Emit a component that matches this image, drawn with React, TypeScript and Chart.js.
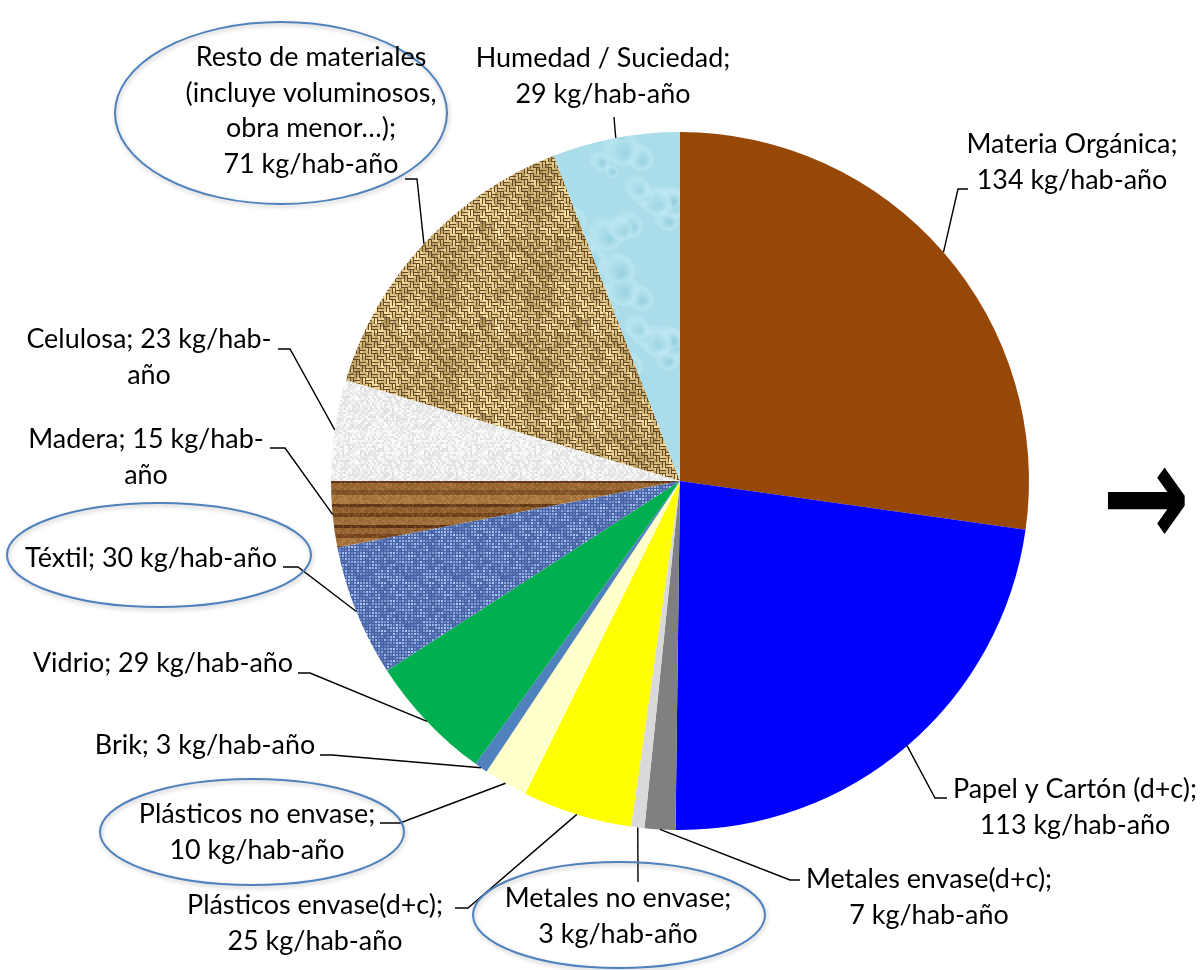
import React, { useEffect, useRef } from "react";
import { Chart, registerables } from "chart.js";

Chart.register(...registerables);

// ---------- DATA ----------
const categories = [
  "Materia Orgánica",
  "Papel y Cartón (d+c)",
  "Metales envase(d+c)",
  "Metales no envase",
  "Plásticos envase(d+c)",
  "Plásticos no envase",
  "Brik",
  "Vidrio",
  "Téxtil",
  "Madera",
  "Celulosa",
  "Resto de materiales (incluye voluminosos, obra menor…)",
  "Humedad / Suciedad",
];
const values = [134, 113, 7, 3, 25, 10, 3, 29, 30, 15, 23, 71, 29];
const unit = "kg/hab-año";

// label text lines (as wrapped in the reference)
const labelLines: string[][] = [
  ["Materia Orgánica;", `${values[0]} ${unit}`],
  ["Papel y Cartón (d+c);", `${values[1]} ${unit}`],
  ["Metales envase(d+c);", `${values[2]} ${unit}`],
  ["Metales no envase;", `${values[3]} ${unit}`],
  ["Plásticos envase(d+c);", `${values[4]} ${unit}`],
  ["Plásticos no envase;", `${values[5]} ${unit}`],
  [`Brik; ${values[6]} ${unit}`],
  [`Vidrio; ${values[7]} ${unit}`],
  [`Téxtil; ${values[8]} ${unit}`],
  [`Madera; ${values[9]} kg/hab-`, "año"],
  [`Celulosa; ${values[10]} kg/hab-`, "año"],
  ["Resto de materiales", "(incluye voluminosos,", "obra menor…);", `${values[11]} ${unit}`],
  ["Humedad / Suciedad;", `${values[12]} ${unit}`],
];
const arrowGlyph = "→";

// ---------- LAYOUT (label placement) ----------
const labelCenterX = [1072, 1075, 929, 618, 315, 257, 205, 163, 151, 146, 149, 311, 603];
const labelFirstBaseline = [153, 798, 888, 907, 914, 823, 754, 672, 567, 448, 348, 66, 67];
const lineHeight = 35.5;
// leader line: elbow point then end point (near text)
const leaderElbow: [number, number][] = [
  [958, 189], [935, 798], [790, 880], [638, 882], [468, 908], [400, 823],
  [332, 755], [310, 673], [298, 567], [285, 448], [290, 349], [417, 179], [614, 117],
];
const leaderEnd: [number, number][] = [
  [968, 189], [947, 798], [800, 880], [638, 882], [455, 908], [380, 823],
  [320, 755], [298, 673], [283, 567], [270, 448], [278, 349], [405, 179], [614, 117],
];
// highlighted labels: [cx, cy, rx, ry]
const ellipses: [number, number, number, number][] = [
  [281, 113, 166, 91],
  [159, 555, 152, 52],
  [252, 832, 152, 53],
  [619, 915, 146, 53],
];

// ---------- textures ----------
function hash(x: number, y: number, s: number) {
  const v = Math.sin(x * 127.1 + y * 311.7 + s * 74.7) * 43758.5453;
  return v - Math.floor(v);
}
function mk(w: number, h: number) {
  const c = document.createElement("canvas");
  c.width = w;
  c.height = h;
  return c;
}
function burlap(ctx: CanvasRenderingContext2D) {
  const S = 96;
  const c = mk(S, S);
  const g = c.getContext("2d")!;
  g.fillStyle = "rgb(100,74,40)";
  g.fillRect(0, 0, S, S);
  for (let yy = 0; yy < S; yy += 3)
    for (let xx = 0; xx < S; xx += 3) {
      const i = xx / 3, j = yy / 3;
      const blk = (Math.floor(i / 2) + Math.floor(j / 2)) % 2 === 0;
      const n = hash(i, j, 1);
      const m = hash(Math.floor(i / 5), Math.floor(j / 5), 2);
      const L = 140 + n * 60 + m * 40;
      g.fillStyle = `rgb(${Math.min(255, L + 30) | 0},${(L + 2) | 0},${(L - 60) | 0})`;
      if (blk) g.fillRect(xx, yy, 3, 2);
      else g.fillRect(xx, yy, 2, 3);
    }
  return ctx.createPattern(c, "repeat")!;
}
function water(ctx: CanvasRenderingContext2D) {
  const S = 140;
  const c = mk(S, S);
  const g = c.getContext("2d")!;
  g.fillStyle = "rgb(170,221,233)";
  g.fillRect(0, 0, S, S);
  for (let k = 0; k < 18; k++) {
    const x = hash(k, 1, 3) * S, y = hash(k, 2, 3) * S;
    const r = 8 + hash(k, 3, 3) * 14;
    const gr = g.createRadialGradient(x + r * 0.25, y + r * 0.25, 1, x, y, r);
    gr.addColorStop(0, "rgba(140,200,218,0.5)");
    gr.addColorStop(0.6, "rgba(195,235,244,0.5)");
    gr.addColorStop(1, "rgba(200,236,245,0.0)");
    g.fillStyle = gr;
    g.beginPath();
    g.ellipse(x, y, r, r * 0.75, 0.6, 0, Math.PI * 2);
    g.fill();
  }
  return ctx.createPattern(c, "repeat")!;
}
function wood(ctx: CanvasRenderingContext2D) {
  const bands: [number, string][] = [
    [6, "rgb(150,98,48)"], [4, "rgb(120,72,30)"], [8, "rgb(168,115,60)"], [3, "rgb(95,55,22)"],
    [7, "rgb(155,104,52)"], [5, "rgb(130,82,38)"], [9, "rgb(172,120,64)"], [3, "rgb(100,58,24)"],
    [6, "rgb(148,96,46)"], [4, "rgb(115,68,28)"], [8, "rgb(160,110,56)"], [3, "rgb(90,50,20)"],
  ];
  const h = bands.reduce((s, b) => s + b[0], 0);
  const c = mk(64, h);
  const g = c.getContext("2d")!;
  let y = 0;
  for (const [bh, col] of bands) {
    g.fillStyle = col;
    g.fillRect(0, y, 64, bh);
    y += bh;
  }
  for (let x = 0; x < 64; x += 2)
    for (let yy = 0; yy < h; yy += 2) {
      const n = hash(x, yy, 5);
      g.fillStyle = n > 0.5 ? `rgba(255,220,170,${(n - 0.5) * 0.25})` : `rgba(60,30,10,${(0.5 - n) * 0.25})`;
      g.fillRect(x, yy, 2, 2);
    }
  return ctx.createPattern(c, "repeat")!;
}
function paper(ctx: CanvasRenderingContext2D) {
  const c = mk(64, 64);
  const g = c.getContext("2d")!;
  g.fillStyle = "rgb(238,238,238)";
  g.fillRect(0, 0, 64, 64);
  for (let x = 0; x < 64; x += 2)
    for (let y = 0; y < 64; y += 2) {
      const n = hash(x, y, 7);
      const L = (222 + n * 33) | 0;
      g.fillStyle = `rgb(${L},${L},${L})`;
      g.fillRect(x, y, 2, 2);
    }
  return ctx.createPattern(c, "repeat")!;
}
function denim(ctx: CanvasRenderingContext2D) {
  const c = mk(48, 48);
  const g = c.getContext("2d")!;
  g.fillStyle = "rgb(70,100,165)";
  g.fillRect(0, 0, 48, 48);
  for (let x = 0; x < 48; x += 3)
    for (let y = 0; y < 48; y += 3) {
      const n = hash(x, y, 9);
      const r = (85 + n * 95) | 0, gg = (112 + n * 90) | 0, b = (178 + n * 70) | 0;
      g.fillStyle = `rgb(${r},${gg},${Math.min(255, b)})`;
      g.fillRect(x, y, 2, 2);
    }
  return ctx.createPattern(c, "repeat")!;
}

export default function App() {
  const ref = useRef<HTMLCanvasElement>(null);
  useEffect(() => {
    const canvas = ref.current!;
    const ctx = canvas.getContext("2d")!;
    const fills: (string | CanvasPattern)[] = [
      "#974706", "#0000FF", "#808080", "#D9D9D9", "#FFFF00", "#FFFFCC", "#4F81BD",
      "#00B050", denim(ctx), wood(ctx), paper(ctx), burlap(ctx), water(ctx),
    ];
    const fontFamily = "Lato, 'Open Sans', sans-serif";
    const labelPlugin = {
      id: "labels",
      afterDatasetsDraw(chart: any) {
        const c: CanvasRenderingContext2D = chart.ctx;
        c.save();
        c.font = `29px ${fontFamily}`;
        const w = c.measureText(labelLines[8][0]).width;
        const fs = (29 * 252) / w;
        c.restore();

        const meta = chart.getDatasetMeta(0);
        c.save();
        c.strokeStyle = "#000";
        c.lineWidth = 1.4;
        meta.data.forEach((arc: any, i: number) => {
          const p = arc.getProps(["x", "y", "startAngle", "endAngle", "outerRadius"], true);
          const mid = (p.startAngle + p.endAngle) / 2;
          const ax = p.x + Math.cos(mid) * p.outerRadius;
          const ay = p.y + Math.sin(mid) * p.outerRadius;
          c.beginPath();
          c.moveTo(ax, ay);
          c.lineTo(leaderElbow[i][0], leaderElbow[i][1]);
          c.lineTo(leaderEnd[i][0], leaderEnd[i][1]);
          c.stroke();
        });
        c.restore();

        // ellipses
        c.save();
        c.strokeStyle = "#4F81BD";
        c.lineWidth = 2;
        c.shadowColor = "rgba(0,0,0,0.25)";
        c.shadowBlur = 4;
        c.shadowOffsetX = 1;
        c.shadowOffsetY = 2;
        for (const [ex, ey, rx, ry] of ellipses) {
          c.beginPath();
          c.ellipse(ex, ey, rx, ry, 0, 0, Math.PI * 2);
          c.stroke();
        }
        c.restore();

        // text
        c.save();
        c.fillStyle = "#000";
        c.font = `${fs}px ${fontFamily}`;
        c.textAlign = "center";
        c.textBaseline = "alphabetic";
        labelLines.forEach((lines, i) => {
          lines.forEach((t, k) => {
            c.fillText(t, labelCenterX[i], labelFirstBaseline[i] + k * lineHeight);
          });
        });
        c.restore();

        // arrow glyph, stretched to the reference proportions
        c.save();
        c.fillStyle = "#000";
        c.font = `bold 92px 'DejaVu Sans'`;
        c.textAlign = "center";
        c.textBaseline = "middle";
        c.translate(1146, 509);
        c.scale(1.14, 1.6);
        c.fillText(arrowGlyph, 0, 0);
        c.restore();
      },
    };

    const chart = new Chart(canvas, {
      type: "pie",
      data: {
        labels: categories,
        datasets: [{ data: values, backgroundColor: fills as any, borderWidth: 0 }],
      },
      options: {
        responsive: false,
        animation: false,
        layout: { padding: { left: 331, right: 173, top: 132, bottom: 140 } },
        plugins: { legend: { display: false }, tooltip: { enabled: false } },
      },
      plugins: [labelPlugin],
    });
    return () => chart.destroy();
  }, []);

  return (
    <div style={{ position: "absolute", left: 0, top: 0, width: 1202, height: 970, background: "#fff" }}>
      <canvas ref={ref} width={1202} height={970} style={{ display: "block", width: 1202, height: 970 }} />
    </div>
  );
}
